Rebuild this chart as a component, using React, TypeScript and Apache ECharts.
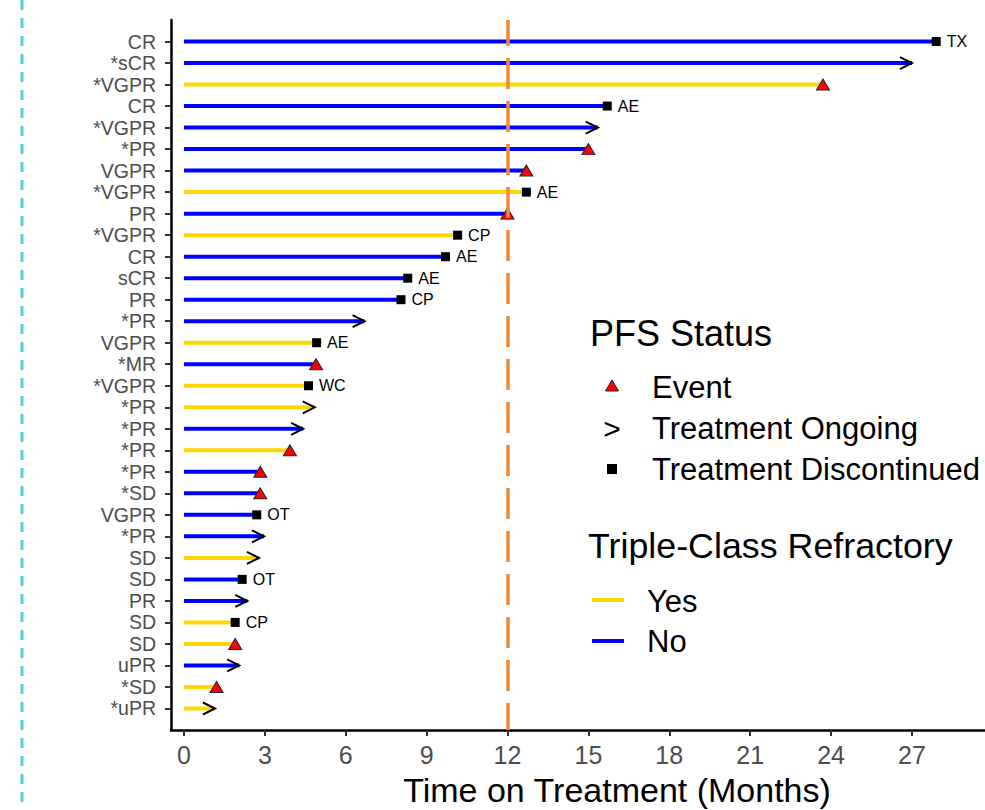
import React, { useEffect, useRef } from "react";
import * as echarts from "echarts";

// Rows from top to bottom
const rowLabels = ["CR", "*sCR", "*VGPR", "CR", "*VGPR", "*PR", "VGPR", "*VGPR", "PR", "*VGPR", "CR", "sCR", "PR", "*PR", "VGPR", "*MR", "*VGPR", "*PR", "*PR", "*PR", "*PR", "*SD", "VGPR", "*PR", "SD", "SD", "PR", "SD", "SD", "uPR", "*SD", "*uPR"];
const months = [27.9, 27.0, 23.7, 15.7, 15.35, 15.0, 12.7, 12.7, 12.0, 10.15, 9.7, 8.3, 8.05, 6.7, 4.92, 4.9, 4.62, 4.85, 4.42, 3.93, 2.83, 2.83, 2.7, 2.97, 2.78, 2.16, 2.35, 1.9, 1.9, 2.05, 1.21, 1.15];
const refractory = ["No", "No", "Yes", "No", "No", "No", "No", "Yes", "No", "Yes", "No", "No", "No", "No", "Yes", "No", "Yes", "Yes", "No", "Yes", "No", "No", "No", "No", "Yes", "No", "No", "Yes", "Yes", "No", "Yes", "Yes"];
// E = Event, O = Treatment Ongoing, D = Treatment Discontinued
const pfsStatus = ["D", "O", "E", "D", "O", "E", "E", "D", "E", "D", "D", "D", "D", "O", "D", "E", "D", "O", "O", "E", "E", "E", "D", "O", "O", "D", "O", "D", "E", "O", "E", "O"];
const reasons = ["TX", "", "", "AE", "", "", "", "AE", "", "CP", "AE", "AE", "CP", "", "AE", "", "WC", "", "", "", "", "", "OT", "", "", "OT", "", "CP", "", "", "", ""];
const xTicks = [0, 3, 6, 9, 12, 15, 18, 21, 24, 27];
const refLineMonth = 12;

const YES_COLOR = "#FFD700";
const NO_COLOR = "#0000FF";
const FONT = "'Liberation Sans', Arial, Helvetica, sans-serif";

export default function App() {
  const ref = useRef<HTMLDivElement>(null);

  useEffect(() => {
    if (!ref.current) return;
    const chart = echarts.init(ref.current, undefined, { renderer: "svg" });
    const n = rowLabels.length;
    const rowValues = rowLabels.map((_, i) => n - i);

    const barData = rowLabels.map((_, i) => [n - i, months[i], refractory[i] === "Yes" ? 1 : 0]);
    const arrowData = rowLabels
      .map((_, i) => (pfsStatus[i] === "O" ? [n - i, months[i]] : null))
      .filter((d) => d !== null);
    const eventData = rowLabels
      .map((_, i) => (pfsStatus[i] === "E" ? [months[i], n - i] : null))
      .filter((d) => d !== null);
    const discData = rowLabels
      .map((_, i) => (pfsStatus[i] === "D" ? { value: [months[i], n - i], reason: reasons[i] } : null))
      .filter((d) => d !== null);

    const legendX = 612;
    const textX = 652;

    chart.setOption({
      animation: false,
      backgroundColor: "#ffffff",
      grid: { left: 171, right: 0, top: 20, bottom: 80, containLabel: false },
      xAxis: {
        type: "value",
        min: -0.48,
        max: 29.71,
        splitLine: { show: false },
        axisLine: { show: true, lineStyle: { color: "#000", width: 2.5 } },
        axisTick: { show: true, customValues: xTicks, length: 6, lineStyle: { color: "#333", width: 2 } },
        axisLabel: {
          customValues: xTicks,
          color: "#4D4D4D",
          fontSize: 25,
          fontFamily: FONT,
          margin: 12,
        },
      },
      yAxis: {
        type: "value",
        min: 0,
        max: n + 1,
        interval: 1,
        splitLine: { show: false },
        axisLine: { show: true, onZero: false, lineStyle: { color: "#000", width: 2.5 } },
        axisTick: { show: true, customValues: rowValues, length: 6, lineStyle: { color: "#333", width: 2 } },
        axisLabel: {
          customValues: rowValues,
          color: "#4D4D4D",
          fontSize: 19.5,
          fontFamily: FONT,
          margin: 15,
          formatter: (v: number) => (v >= 1 && v <= n ? rowLabels[n - v] : ""),
        },
      },
      series: [
        {
          type: "custom",
          name: "bars",
          data: barData,
          z: 2,
          renderItem: (params: any, api: any) => {
            const y = api.value(0);
            const end = api.value(1);
            const yes = api.value(2) === 1;
            const p0 = api.coord([0, y]);
            const p1 = api.coord([end, y]);
            return {
              type: "line",
              shape: { x1: p0[0], y1: p0[1], x2: p1[0], y2: p1[1] },
              style: { stroke: yes ? YES_COLOR : NO_COLOR, lineWidth: 4 },
            };
          },
        },
        {
          type: "custom",
          name: "ongoing",
          data: arrowData,
          z: 3,
          renderItem: (params: any, api: any) => {
            const y = api.value(0);
            const end = api.value(1);
            const p = api.coord([end, y]);
            return {
              type: "polyline",
              shape: { points: [[p[0] - 12, p[1] - 6], [p[0], p[1]], [p[0] - 12, p[1] + 6]] },
              style: { stroke: "#000", lineWidth: 2, fill: "none" },
            };
          },
        },
        {
          type: "scatter",
          name: "Event",
          data: eventData,
          z: 4,
          symbol: "triangle",
          symbolSize: [13, 11],
          itemStyle: { color: "#FF0000", borderColor: "#222", borderWidth: 1, opacity: 1 },
        },
        {
          type: "scatter",
          name: "Discontinued",
          data: discData,
          z: 4,
          symbol: "rect",
          symbolSize: 9,
          itemStyle: { color: "#000", opacity: 1 },
          label: {
            show: true,
            position: "right",
            distance: 6,
            color: "#000",
            fontSize: 16,
            fontFamily: FONT,
            formatter: (p: any) => p.data.reason,
          },
          markLine: {
            silent: true,
            symbol: "none",
            z: 10,
            label: { show: false },
            lineStyle: { color: "#F0863A", width: 3.5, type: [31, 12], dashOffset: 4, opacity: 1 },
            data: [{ xAxis: refLineMonth }],
          },
        },
      ],
      graphic: [
        {
          type: "line",
          shape: { x1: 22, y1: 0, x2: 22, y2: 810 },
          style: { stroke: "#5BCBE3", lineWidth: 3, lineDash: [10, 8] },
          z: 1,
        },
        {
          type: "text",
          x: 617,
          y: 790,
          style: {
            text: "Time on Treatment (Months)",
            fontSize: 34,
            fontFamily: FONT,
            fill: "#000",
            textAlign: "center",
            textVerticalAlign: "middle",
          },
        },
        {
          type: "text",
          x: 590,
          y: 333,
          style: { text: "PFS Status", fontSize: 36, fontFamily: FONT, fill: "#000", textVerticalAlign: "middle" },
        },
        {
          type: "polygon",
          shape: { points: [[legendX - 6.5, 391], [legendX + 6.5, 391], [legendX, 380]] },
          style: { fill: "#FF0000", stroke: "#222", lineWidth: 1 },
        },
        {
          type: "text",
          x: textX,
          y: 387,
          style: { text: "Event", fontSize: 31, fontFamily: FONT, fill: "#000", textVerticalAlign: "middle" },
        },
        {
          type: "text",
          x: legendX,
          y: 428,
          style: { text: ">", fontSize: 30, fontFamily: FONT, fill: "#000", textAlign: "center", textVerticalAlign: "middle" },
        },
        {
          type: "text",
          x: textX,
          y: 428,
          style: { text: "Treatment Ongoing", fontSize: 31, fontFamily: FONT, fill: "#000", textVerticalAlign: "middle" },
        },
        {
          type: "rect",
          shape: { x: legendX - 5, y: 464, width: 10, height: 10 },
          style: { fill: "#000" },
        },
        {
          type: "text",
          x: textX,
          y: 469,
          style: { text: "Treatment Discontinued", fontSize: 31, fontFamily: FONT, fill: "#000", textVerticalAlign: "middle" },
        },
        {
          type: "text",
          x: 588,
          y: 546,
          style: { text: "Triple-Class Refractory", fontSize: 35.8, fontFamily: FONT, fill: "#000", textVerticalAlign: "middle" },
        },
        {
          type: "line",
          shape: { x1: 592, y1: 600, x2: 624, y2: 600 },
          style: { stroke: YES_COLOR, lineWidth: 4 },
        },
        {
          type: "text",
          x: 647,
          y: 601,
          style: { text: "Yes", fontSize: 31, fontFamily: FONT, fill: "#000", textVerticalAlign: "middle" },
        },
        {
          type: "line",
          shape: { x1: 592, y1: 641, x2: 624, y2: 641 },
          style: { stroke: NO_COLOR, lineWidth: 4 },
        },
        {
          type: "text",
          x: 647,
          y: 641,
          style: { text: "No", fontSize: 31, fontFamily: FONT, fill: "#000", textVerticalAlign: "middle" },
        },
      ],
    });

    return () => {
      chart.dispose();
    };
  }, []);

  return (
    <div
      ref={ref}
      style={{ position: "fixed", left: 0, top: 0, width: 985, height: 810, background: "#fff" }}
    />
  );
}
